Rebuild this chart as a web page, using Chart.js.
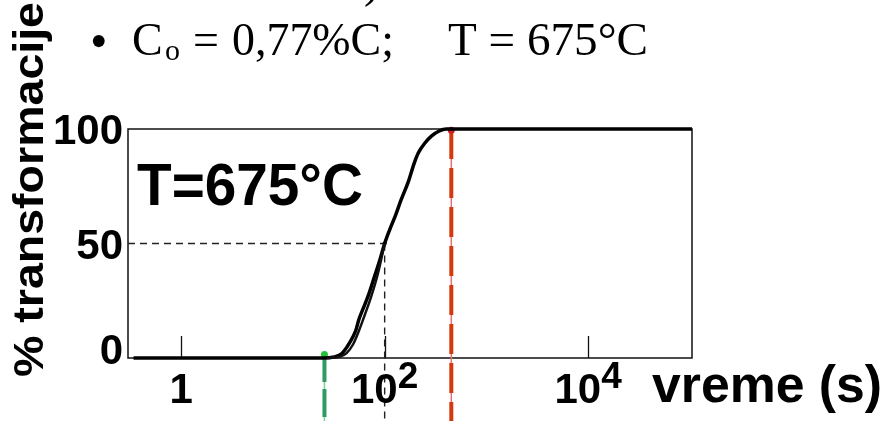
<!DOCTYPE html>
<html>
<head>
<meta charset="utf-8">
<script src="https://cdn.jsdelivr.net/npm/chart.js@4/dist/chart.umd.min.js"></script>
<style>
  html, body { margin: 0; padding: 0; background: #ffffff; }
  #wrap { width: 890px; height: 421px; position: relative; }
</style>
</head>
<body>
<div id="wrap"><canvas id="c" width="890" height="421"></canvas></div>
<script>
// Isothermal transformation curve, eutectoid steel (0.77 %C) held at 675 °C
const timeMain  = [0.34, 25, 32, 38, 45, 52, 56, 62, 70, 80, 90, 100, 112, 127, 145, 171, 195, 214, 250, 290, 340, 404, 105000];
const pctMain   = [0,    0,  0.5, 2, 6.5, 12, 17, 22, 28, 36, 43, 50,  56,  62,  69,  77,  85,  89.5, 94, 97,  99,  100, 100];
const timeLower = [27, 36,  42, 49, 56, 64, 74, 86, 100];
const pctLower  = [0,  0.5, 2,  6,  12, 19, 27, 37, 50];

const xTickValues = [1, 100, 10000];
const xTickBase   = ['1', '10', '10'];
const xTickExp    = ['', '2', '4'];
const yTickValues = [0, 50, 100];
const yTickLabels = ['0', '50', '100'];

const startTime  = 25.6;   // transformation start (s)
const finishTime = 452;    // transformation finish (s)
const halfTime   = 100;    // 50 % transformed (s)
const halfPct    = 50;
const xMin = 0.34, xMax = 105000;

const toXY = (xs, ys) => xs.map((x, i) => ({ x: x, y: ys[i] }));

const SANS = '"Liberation Sans", Arial, sans-serif';
const SERIF = '"Liberation Serif", "Times New Roman", serif';

function fitText(ctx, text, x, y, font, width, align) {
  ctx.font = font;
  const w = ctx.measureText(text).width;
  const s = width ? width / w : 1;
  ctx.save();
  ctx.translate(x, y);
  ctx.scale(s, 1);
  ctx.textAlign = 'left';
  ctx.textBaseline = 'alphabetic';
  const off = align === 'right' ? -w : (align === 'center' ? -w / 2 : 0);
  ctx.fillText(text, off, 0);
  ctx.restore();
}

const decorations = {
  id: 'decorations',
  beforeDatasetsDraw(chart) {
    const { ctx, chartArea: a, scales: { x, y } } = chart;
    const H = chart.height;
    ctx.save();
    // frame
    ctx.strokeStyle = '#111';
    ctx.lineWidth = 1.5;
    ctx.strokeRect(a.left, a.top, a.right - a.left, a.bottom - a.top);
    // inward tick marks on the time axis
    ctx.lineWidth = 1.3;
    xTickValues.forEach(v => {
      const px = Math.round(x.getPixelForValue(v)) + 0.5;
      ctx.beginPath();
      ctx.moveTo(px, a.bottom);
      ctx.lineTo(px, a.bottom - 22);
      ctx.stroke();
    });
    // 50 % guide lines
    const hx = x.getPixelForValue(halfTime), hy = y.getPixelForValue(halfPct);
    ctx.strokeStyle = '#222';
    ctx.lineWidth = 1.4;
    ctx.setLineDash([7, 5]);
    ctx.beginPath();
    ctx.moveTo(a.left, hy); ctx.lineTo(hx, hy);
    ctx.moveTo(hx, hy); ctx.lineTo(hx, H);
    ctx.stroke();
    // start line (green)
    const gx = x.getPixelForValue(startTime);
    const gy = y.getPixelForValue(0) - 4;
    ctx.setLineDash([]);
    ctx.strokeStyle = '#7fcf9a';
    ctx.lineWidth = 1.5;
    ctx.beginPath(); ctx.moveTo(gx, gy); ctx.lineTo(gx, H); ctx.stroke();
    ctx.strokeStyle = '#2f9a63';
    ctx.lineWidth = 4;
    ctx.setLineDash([28, 7]);
    ctx.beginPath(); ctx.moveTo(gx, gy); ctx.lineTo(gx, H); ctx.stroke();
    // finish line (red)
    const rx = x.getPixelForValue(finishTime);
    const ry = y.getPixelForValue(100);
    ctx.setLineDash([]);
    ctx.strokeStyle = '#e8707a';
    ctx.lineWidth = 1.5;
    ctx.beginPath(); ctx.moveTo(rx, ry); ctx.lineTo(rx, H); ctx.stroke();
    ctx.strokeStyle = '#d33a0c';
    ctx.lineWidth = 4;
    ctx.setLineDash([30, 9]);
    ctx.beginPath(); ctx.moveTo(rx, ry); ctx.lineTo(rx, H); ctx.stroke();
    ctx.restore();
  },
  afterDraw(chart) {
    const { ctx, chartArea: a, scales: { x, y } } = chart;
    ctx.save();
    ctx.fillStyle = '#000';
    // y tick labels
    yTickValues.forEach((v, i) => {
      const py = y.getPixelForValue(v);
      const base = Math.min(py + 15, a.bottom + 6);
      fitText(ctx, yTickLabels[i], 123, base, 'bold 42px ' + SANS, 0, 'right');
    });
    // x tick labels (powers of ten)
    xTickValues.forEach((v, i) => {
      const px = x.getPixelForValue(v);
      ctx.font = 'bold 42px ' + SANS;
      const w1 = ctx.measureText(xTickBase[i]).width;
      ctx.font = 'bold 37px ' + SANS;
      const w2 = xTickExp[i] ? ctx.measureText(xTickExp[i]).width : 0;
      const x0 = px - (w1 + w2) / 2;
      fitText(ctx, xTickBase[i], x0, 403, 'bold 42px ' + SANS, 0, 'left');
      if (xTickExp[i]) fitText(ctx, xTickExp[i], x0 + w1, 388, 'bold 37px ' + SANS, 0, 'left');
    });
    // axis titles
    fitText(ctx, 'vreme (s)', 652, 402, 'bold 52px ' + SANS, 230, 'left');
    ctx.save();
    ctx.translate(43, 377);
    ctx.rotate(-Math.PI / 2);
    fitText(ctx, '% transformacije', 0, 0, 'bold 42px ' + SANS, 375, 'left');
    ctx.restore();
    // temperature inside the plot
    fitText(ctx, 'T=675°C', 137, 205, 'bold 60px ' + SANS, 226, 'left');
    // heading line
    fitText(ctx, ')', 364, -3, '46px ' + SERIF, 0, 'left');
    fitText(ctx, '•', 90, 58, '50px ' + SERIF, 0, 'left');
    fitText(ctx, 'C', 132, 55, '46px ' + SERIF, 0, 'left');
    fitText(ctx, 'o', 165, 60, '30px ' + SERIF, 0, 'left');
    fitText(ctx, '=', 193, 55, '46px ' + SERIF, 0, 'left');
    fitText(ctx, '0,77%C;', 232, 55, '46px ' + SERIF, 162, 'left');
    fitText(ctx, 'T = 675°C', 448, 55, '46px ' + SERIF, 200, 'left');
    ctx.restore();
  }
};

new Chart(document.getElementById('c').getContext('2d'), {
  type: 'line',
  data: {
    datasets: [
      {
        data: toXY(timeLower, pctLower),
        borderColor: '#111', borderWidth: 2.5,
        pointRadius: 0, cubicInterpolationMode: 'monotone', clip: false
      },
      {
        data: toXY(timeMain, pctMain),
        borderColor: '#000', borderWidth: 3.5,
        pointRadius: 0, cubicInterpolationMode: 'monotone', clip: false
      },
      {
        data: [{ x: startTime, y: 1.5 }],
        showLine: false, pointRadius: 3.5, pointBorderWidth: 0,
        pointBackgroundColor: '#24c43a', clip: false
      },
      {
        data: [{ x: finishTime, y: 99.5 }],
        showLine: false, pointRadius: 3.5, pointBorderWidth: 0,
        pointBackgroundColor: '#d0202a', clip: false
      },
      {
        data: [{ x: halfTime, y: halfPct }],
        showLine: false, pointRadius: 2, pointBorderWidth: 0,
        pointBackgroundColor: '#000', clip: false
      }
    ]
  },
  options: {
    responsive: false,
    animation: false,
    devicePixelRatio: 1,
    layout: { padding: { left: 128, top: 129, right: 198, bottom: 63 } },
    plugins: { legend: { display: false }, tooltip: { enabled: false } },
    scales: {
      x: { type: 'logarithmic', min: xMin, max: xMax, display: false },
      y: { type: 'linear', min: 0, max: 100, display: false }
    }
  },
  plugins: [decorations]
});
</script>
</body>
</html>
